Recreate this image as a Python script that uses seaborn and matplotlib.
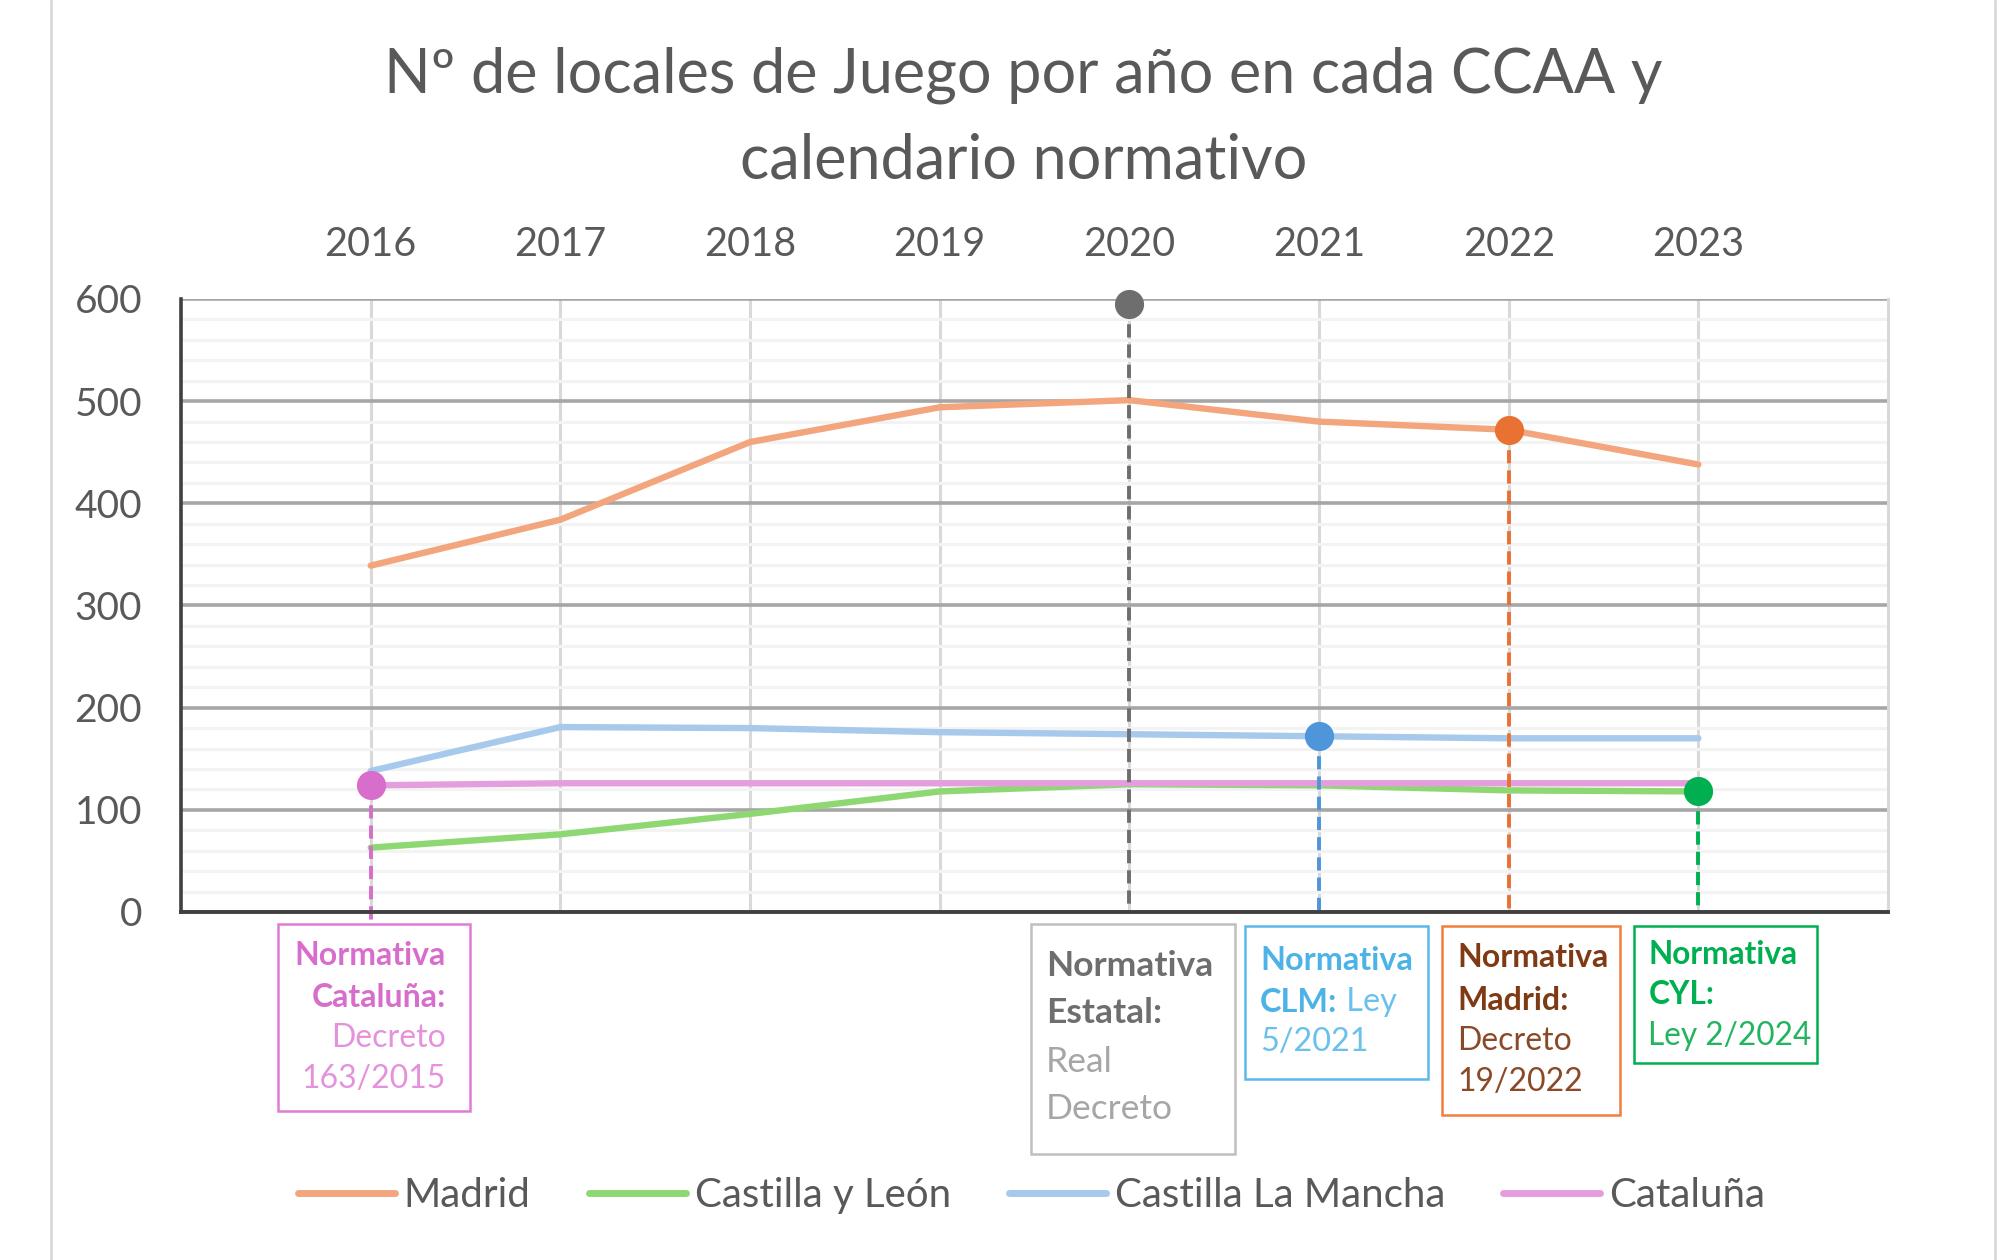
import numpy as np
import pandas as pd
import matplotlib
matplotlib.use("Agg")
import matplotlib.pyplot as plt
import matplotlib.transforms as mtransforms
from matplotlib.patches import Rectangle
from matplotlib.lines import Line2D
from matplotlib.ticker import MultipleLocator
import seaborn as sns

# ---------------- data ----------------
years = [2016, 2017, 2018, 2019, 2020, 2021, 2022, 2023]
madrid = [339, 384, 460, 494, 501, 480, 472, 438]
castilla_leon = [63, 76, 96, 118, 125, 124, 119, 118]
castilla_la_mancha = [138, 181, 180, 176, 174, 172, 170, 170]
cataluna = [124, 126, 126, 126, 126, 126, 126, 126]
series_names = ["Madrid", "Castilla y León", "Castilla La Mancha", "Cataluña"]
series_colors = ["#F3A67D", "#8ED873", "#A6C9EC", "#E59EDD"]

# regulation milestones (year, marker value)
norm_years = [2016, 2020, 2021, 2022, 2023]
norm_values = [124, 595, 172, 472, 118]
norm_colors = ["#D86ECC", "#6E6E6E", "#4E95D9", "#E97132", "#00B050"]
norm_texts = [
    [[("Normativa", "bold")], [("Cataluña:", "bold")], [("Decreto", "normal")], [("163/2015", "normal")]],
    [[("Normativa", "bold")], [("Estatal:", "bold")], [("Real", "normal")], [("Decreto", "normal")]],
    [[("Normativa", "bold")], [("CLM:", "bold"), (" Ley", "normal")], [("5/2021", "normal")]],
    [[("Normativa", "bold")], [("Madrid:", "bold")], [("Decreto", "normal")], [("19/2022", "normal")]],
    [[("Normativa", "bold")], [("CYL:", "bold")], [("Ley 2/2024", "normal")]],
]
title_text = "Nº de locales de Juego por año en cada CCAA y\ncalendario normativo"

# ---------------- style ----------------
sns.set_theme(style="white")
plt.rcParams["font.family"] = ["Lato", "DejaVu Sans"]
TXT = "#595959"

fig = plt.figure(figsize=(20.03, 12.6), dpi=100)
ax = fig.add_axes([0.0904, 0.2762, 0.8522, 0.4865])

df = pd.DataFrame({
    "year": years * 4,
    "value": madrid + castilla_leon + castilla_la_mancha + cataluna,
    "region": [n for n in series_names for _ in years],
})
sns.lineplot(data=df, x="year", y="value", hue="region", hue_order=series_names,
             palette=series_colors, linewidth=4.6, ax=ax, legend=False, zorder=3,
             sort=False)

ax.set_xlim(2015, 2024)
ax.set_ylim(0, 600)
ax.yaxis.set_major_locator(MultipleLocator(100))
ax.yaxis.set_minor_locator(MultipleLocator(20))
ax.set_xticks(years)
ax.set_xticklabels([str(y) for y in years])
ax.xaxis.tick_top()
ax.tick_params(axis="x", which="both", length=0, pad=26, labelsize=28.5, labelcolor=TXT)
ax.tick_params(axis="y", which="both", length=0, pad=28, labelsize=28, labelcolor=TXT)
ax.set_xlabel("")
ax.set_ylabel("")

ax.grid(axis="y", which="major", color="#A6A6A6", linewidth=2.6, zorder=1)
ax.grid(axis="y", which="minor", color="#F3F3F3", linewidth=2.2, zorder=0)
ax.grid(axis="x", which="major", color="#D9D9D9", linewidth=2.2, zorder=1)
ax.set_axisbelow(True)
ax.spines["top"].set_visible(False)
ax.spines["right"].set_color("#D9D9D9")
ax.spines["right"].set_linewidth(2.2)
ax.spines["left"].set_color("#404040")
ax.spines["left"].set_linewidth(2.6)
ax.spines["bottom"].set_color("#404040")
ax.spines["bottom"].set_linewidth(2.8)
ax.spines["bottom"].set_zorder(5)

# dashed drop lines and markers
for i, (yr, val, col) in enumerate(zip(norm_years, norm_values, norm_colors)):
    bottom = -11 if i == 0 else 0
    ax.plot([yr, yr], [val, bottom], color=col, linewidth=2.8,
            linestyle=(0, (3.4, 1.8)), zorder=4, clip_on=False)
    ax.plot([yr], [val], marker="o", markersize=21, color=col,
            markeredgewidth=0, zorder=6, clip_on=False)

# annotation boxes: (x0, x1, ytop, ybottom) data-x / axes-y
trans = mtransforms.blended_transform_factory(ax.transData, ax.transAxes)
boxes = [
    (2015.51, 2016.525, -0.019, -0.325),
    (2019.479, 2020.556, -0.019, -0.394),
    (2020.61, 2021.572, -0.023, -0.273),
    (2021.646, 2022.588, -0.023, -0.331),
    (2022.662, 2023.624, -0.023, -0.246),
]
box_edge = ["#E07BD6", "#BFBFBF", "#5AB9EA", "#F07F3C", "#00B050"]
bold_col = ["#D86ECC", "#6E6E6E", "#4DB3E6", "#7F3A14", "#00B050"]
reg_col = ["#E592DC", "#A6A6A6", "#6CC0EC", "#8A4A28", "#22B45E"]
text_x = [2016.397, 2019.56, 2020.69, 2021.727, 2022.736]
text_ha = ["right", "left", "left", "left", "left"]
line_ys = [
    [-0.071, -0.140, -0.206, -0.273],
    [-0.0875, -0.165, -0.244, -0.321],
    [-0.079, -0.148, -0.2125],
    [-0.075, -0.144, -0.210, -0.277],
    [-0.069, -0.135, -0.202],
]
sizes = [23, 25.5, 23.3, 23, 22.8]

for k, (x0, x1, yt, yb) in enumerate(boxes):
    r = Rectangle((x0, yb), x1 - x0, yt - yb, transform=trans, fill=True,
                  facecolor="white", edgecolor=box_edge[k], linewidth=1.8,
                  clip_on=False, zorder=5)
    ax.add_patch(r)
    for li, segs in enumerate(norm_texts[k]):
        y = line_ys[k][li]
        prev = None
        for (txt, w) in segs:
            col = bold_col[k] if w == "bold" else reg_col[k]
            if prev is None:
                prev = ax.text(text_x[k], y, txt, transform=trans, ha=text_ha[k],
                               va="center", fontsize=sizes[k], fontweight=w,
                               color=col, zorder=6, clip_on=False)
            else:
                prev = ax.annotate(txt, xy=(1, 0), xycoords=prev, ha="left",
                                   va="bottom", fontsize=sizes[k], fontweight=w,
                                   color=col, zorder=6, annotation_clip=False)

# legend
handles = [Line2D([0], [0], color=c, linewidth=5) for c in series_colors]
fig.legend(handles, series_names, loc="center", bbox_to_anchor=(0.515, 0.051),
           ncol=4, frameon=False, fontsize=29, handlelength=2.4,
           handletextpad=0.22, columnspacing=1.45, labelcolor=TXT)

# title
fig.text(0.511, 0.906, title_text, ha="center", va="center", fontsize=44,
         color=TXT, linespacing=1.62)

# chart area frame lines
fig.add_artist(Line2D([51 / 2003, 51 / 2003], [0, 1], color="#D9D9D9", linewidth=2,
                      transform=fig.transFigure))
fig.add_artist(Line2D([1995 / 2003, 1995 / 2003], [0, 1], color="#D9D9D9", linewidth=2,
                      transform=fig.transFigure))

fig.savefig("out.png", dpi=100, facecolor="white")
